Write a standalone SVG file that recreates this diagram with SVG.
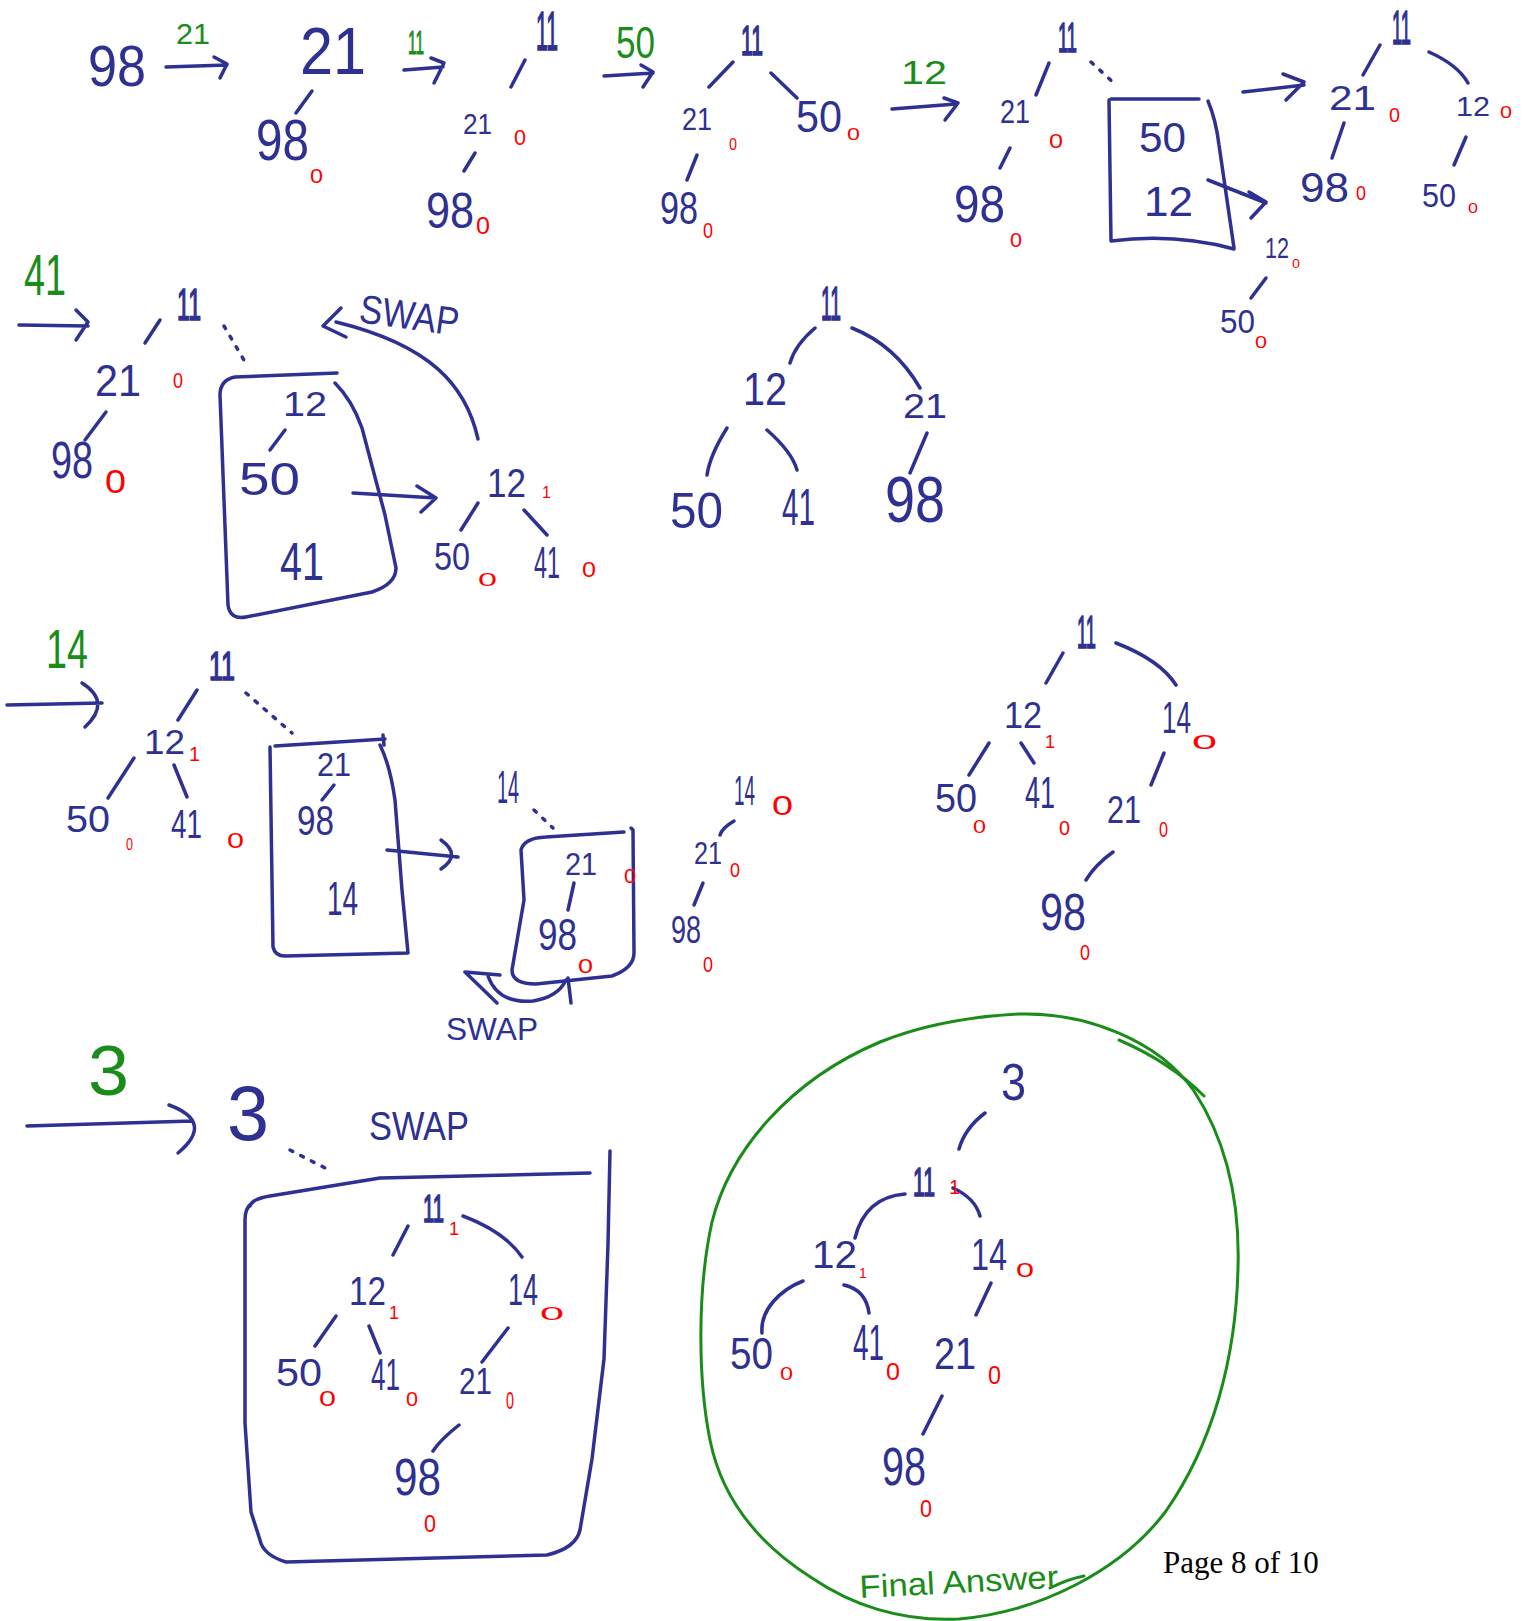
<svg xmlns="http://www.w3.org/2000/svg" width="1528" height="1621" viewBox="0 0 1528 1621">
<style>
text{font-family:"Liberation Sans",Arial,sans-serif}
.b{fill:#2e3192}
.r{fill:#ff0000}
.g{fill:#1a8c1a}
.n11{fill:#2e3192;stroke:#2e3192;stroke-width:1.6}
.e{fill:none;stroke:#2e3192;stroke-width:3.5;stroke-linecap:round;stroke-linejoin:round}
.eg{fill:none;stroke:#1a8c1a;stroke-width:3;stroke-linecap:round;stroke-linejoin:round}
.d{stroke-dasharray:3 9}
.pg{font-family:"Liberation Serif","Times New Roman",serif;fill:#000}
</style>
<rect width="1528" height="1621" fill="#fff"/>

<g id="connectors">
<!-- row 1 -->
<path class="e" d="M166,67 L227,65 M214,57 L227,64 L220,78"/>
<path class="e" d="M312,91 L296,113"/>
<path class="e" d="M404,70 L443,67 M431,58 L444,63 L434,83"/>
<path class="e" d="M525,60 L511,87 M475,153 L464,171"/>
<path class="e" d="M604,76 L653,73 M641,65 L653,72 L643,87"/>
<path class="e" d="M733,62 L709,87 M771,73 L797,98 M697,155 L687,180"/>
<path class="e" d="M892,109 L956,104 M944,98 L958,103 L945,120"/>
<path class="e" d="M1049,63 L1036,95 M1010,148 L1000,168"/>
<path class="e d" d="M1091,62 L1116,85"/>
<path class="e" d="M1208,180 L1266,203 M1249,192 L1266,202 L1251,218"/>
<path class="e" d="M1266,278 L1251,298"/>
<path class="e" d="M1243,92 L1304,85 M1283,74 L1304,82 L1286,100"/>
<path class="e" d="M1380,45 L1363,75 M1429,52 Q1458,65 1468,83 M1344,123 L1332,158 M1466,137 L1454,165"/>
<!-- row 2 -->
<path class="e" d="M19,325 L88,326 M76,310 L88,322 L76,340"/>
<path class="e" d="M160,320 L145,343 M106,412 L85,440"/>
<path class="e d" d="M224,326 L248,367"/>
<path class="e" d="M285,430 L270,450"/>
<path class="e" d="M353,493 L436,498 M417,486 L436,498 L421,512"/>
<path class="e" d="M478,503 L461,530 M524,510 L547,535"/>
<path class="e" d="M478,439 C466,385 430,345 336,322 M341,308 L323,326 L346,337"/>
<path class="e" d="M815,328 Q795,345 790,363 M852,328 Q895,345 920,388 M727,428 Q710,455 707,475 M767,430 Q792,452 797,470 M927,433 L910,473"/>
<!-- row 3 -->
<path class="e" d="M7,705 L102,703 M82,683 Q112,702 85,727"/>
<path class="e" d="M197,690 L178,720 M134,758 L108,798 M174,765 L187,797"/>
<path class="e d" d="M246,693 L292,733"/>
<path class="e" d="M334,785 L322,800"/>
<path class="e" d="M387,850 L458,857 M441,840 Q462,855 441,869"/>
<path class="e d" d="M534,810 L553,828"/>
<path class="e" d="M574,883 L568,910"/>
<path class="e" d="M465,972 L500,975 M465,972 L497,1003 M488,976 Q498,1004 533,1001 Q558,997 566,980 M568,978 L571,1003"/>
<path class="e" d="M734,821 Q722,828 720,835 M703,883 L694,905"/>
<path class="e" d="M1063,653 L1046,683 M1116,643 Q1160,660 1176,685 M989,743 L969,775 M1021,743 L1034,763 M1164,753 L1151,785 M1113,852 Q1095,865 1086,880"/>
<!-- row 4 -->
<path class="e" d="M27,1126 L192,1121 M169,1105 Q215,1122 178,1153"/>
<path class="e d" d="M290,1150 L329,1170"/>
<path class="e" d="M408,1226 L393,1255 M463,1216 Q505,1232 522,1257 M336,1316 L315,1346 M369,1326 L380,1353 M508,1328 L482,1362 M459,1425 Q440,1440 433,1451"/>
<path class="e" d="M985,1113 Q965,1128 959,1149 M905,1194 C880,1196 862,1210 855,1238 M953,1188 Q975,1198 980,1216 M803,1281 C780,1290 760,1310 762,1333 M844,1285 Q866,1290 869,1313 M991,1283 L976,1315 M942,1396 L923,1434"/>
</g>

<g id="boxes">
<path class="e" d="M1111,99 L1199,99 M1208,101 Q1216,120 1219,145 L1234,248 M1109,100 L1111,241 Q1175,233 1234,249"/>
<path class="e" d="M337,373 L235,377 Q220,380 220,395 L228,605 Q230,620 246,617 L372,592 Q396,584 396,568 L385,515 L362,428 Q352,400 335,383"/>
<path class="e" d="M275,746 L385,739 M383,735 L384,745 M270,747 L273,947 Q275,956 285,956 L408,953 L402,890 L395,800 Q390,765 380,745"/>
<path class="e" d="M546,837 L624,832 M631,828 L633,830 L634,953 Q634,968 612,976 L536,984 Q512,984 512,970 L524,900 L521,850 Q524,838 546,837"/>
<path class="e" d="M250,1206 Q252,1199 270,1196 L380,1178 L590,1173 M610,1151 L608,1244 L604,1359 L592,1459 L580,1530 Q576,1548 547,1555 L286,1562 Q263,1555 260,1540 L251,1512 L245,1423 L245,1220 Q245,1208 252,1203"/>
<path class="eg" d="M1019,1014 C1085,1012 1158,1040 1194,1091 C1226,1140 1240,1200 1238,1268 C1236,1360 1212,1445 1166,1511 C1122,1570 1040,1612 959,1619 C900,1622 850,1604 812,1578 C760,1545 722,1500 710,1440 C698,1380 697,1290 712,1222 C730,1150 790,1080 880,1042 C930,1022 980,1016 1019,1014 Z"/>
<path class="eg" d="M1119,1040 Q1170,1062 1204,1096 M1050,1588 Q1068,1579 1084,1576"/>
</g>

<g id="labels">
<text class="g" x="176" y="44" font-size="30" textLength="34" lengthAdjust="spacingAndGlyphs">21</text>
<text class="g" x="408" y="54" font-size="34" textLength="16" lengthAdjust="spacingAndGlyphs" stroke="#1a8c1a" stroke-width="1">11</text>
<text class="g" x="616" y="58" font-size="44" textLength="39" lengthAdjust="spacingAndGlyphs">50</text>
<text class="g" x="901" y="84" font-size="34" textLength="46" lengthAdjust="spacingAndGlyphs">12</text>
<text class="g" x="24" y="295" font-size="58" textLength="42" lengthAdjust="spacingAndGlyphs">41</text>
<text class="g" x="46" y="668" font-size="56" textLength="42" lengthAdjust="spacingAndGlyphs">14</text>
<text class="g" x="88" y="1095" font-size="70" textLength="41" lengthAdjust="spacingAndGlyphs">3</text>
<text class="b" x="358" y="322" font-size="40" textLength="100" lengthAdjust="spacingAndGlyphs" transform="rotate(8 358 322)">SWAP</text>
<text class="b" x="446" y="1040" font-size="32" textLength="92" lengthAdjust="spacingAndGlyphs">SWAP</text>
<text class="b" x="369" y="1140" font-size="40" textLength="100" lengthAdjust="spacingAndGlyphs">SWAP</text>
<text class="g" x="860" y="1598" font-size="32" textLength="199" lengthAdjust="spacingAndGlyphs" transform="rotate(-3 860 1598)">Final Answer</text>
<text class="pg" x="1163" y="1573" font-size="31">Page 8 of 10</text>
</g>

<!-- step 1 -->
<g id="s1-98"><text class="b" x="88" y="86" font-size="58" textLength="58" lengthAdjust="spacingAndGlyphs">98</text></g>
<!-- step 2 -->
<g id="s2-21"><text class="b" x="300" y="74" font-size="66" textLength="66" lengthAdjust="spacingAndGlyphs">21</text></g>
<g id="s2-98"><text class="b" x="256" y="160" font-size="58" textLength="53" lengthAdjust="spacingAndGlyphs">98</text><text class="r" x="310" y="183" font-size="21" textLength="13" lengthAdjust="spacingAndGlyphs">0</text></g>
<!-- step 3 -->
<g id="s3-11"><text class="n11" x="536" y="50" font-size="56" textLength="22" lengthAdjust="spacingAndGlyphs">11</text></g>
<g id="s3-21"><text class="b" x="463" y="134" font-size="30" textLength="29" lengthAdjust="spacingAndGlyphs">21</text><text class="r" x="514" y="145" font-size="22" textLength="12" lengthAdjust="spacingAndGlyphs">0</text></g>
<g id="s3-98"><text class="b" x="426" y="228" font-size="50" textLength="48" lengthAdjust="spacingAndGlyphs">98</text><text class="r" x="476" y="234" font-size="24" textLength="14" lengthAdjust="spacingAndGlyphs">0</text></g>
<!-- step 4 -->
<g id="s4-11"><text class="n11" x="741" y="55" font-size="42" textLength="22" lengthAdjust="spacingAndGlyphs">11</text></g>
<g id="s4-21"><text class="b" x="682" y="130" font-size="32" textLength="30" lengthAdjust="spacingAndGlyphs">21</text><text class="r" x="729" y="150" font-size="16" textLength="8" lengthAdjust="spacingAndGlyphs">0</text></g>
<g id="s4-98"><text class="b" x="660" y="224" font-size="46" textLength="38" lengthAdjust="spacingAndGlyphs">98</text><text class="r" x="703" y="238" font-size="22" textLength="10" lengthAdjust="spacingAndGlyphs">0</text></g>
<g id="s4-50"><text class="b" x="796" y="132" font-size="44" textLength="46" lengthAdjust="spacingAndGlyphs">50</text><text class="r" x="847" y="140" font-size="16" textLength="13" lengthAdjust="spacingAndGlyphs">0</text></g>
<!-- step 5 -->
<g id="s5-11"><text class="n11" x="1058" y="52" font-size="42" textLength="19" lengthAdjust="spacingAndGlyphs">11</text></g>
<g id="s5-21"><text class="b" x="1000" y="123" font-size="34" textLength="30" lengthAdjust="spacingAndGlyphs">21</text><text class="r" x="1049" y="148" font-size="20" textLength="14" lengthAdjust="spacingAndGlyphs">0</text></g>
<g id="s5-98"><text class="b" x="954" y="222" font-size="52" textLength="51" lengthAdjust="spacingAndGlyphs">98</text><text class="r" x="1010" y="247" font-size="20" textLength="12" lengthAdjust="spacingAndGlyphs">0</text></g>
<g id="s5-box"><text class="b" x="1139" y="152" font-size="42" textLength="47" lengthAdjust="spacingAndGlyphs">50</text><text class="b" x="1144" y="216" font-size="42" textLength="49" lengthAdjust="spacingAndGlyphs">12</text></g>
<g id="s5-12"><text class="b" x="1265" y="258" font-size="30" textLength="24" lengthAdjust="spacingAndGlyphs">12</text><text class="r" x="1292" y="268" font-size="12" textLength="8" lengthAdjust="spacingAndGlyphs">0</text></g>
<g id="s5-50"><text class="b" x="1220" y="333" font-size="33" textLength="35" lengthAdjust="spacingAndGlyphs">50</text><text class="r" x="1255" y="348" font-size="16" textLength="12" lengthAdjust="spacingAndGlyphs">0</text></g>
<!-- step 6 -->
<g id="s6-11"><text class="n11" x="1392" y="44" font-size="48" textLength="19" lengthAdjust="spacingAndGlyphs">11</text></g>
<g id="s6-21"><text class="b" x="1329" y="110" font-size="35" textLength="47" lengthAdjust="spacingAndGlyphs">21</text><text class="r" x="1389" y="122" font-size="20" textLength="11" lengthAdjust="spacingAndGlyphs">0</text></g>
<g id="s6-12"><text class="b" x="1456" y="116" font-size="27" textLength="34" lengthAdjust="spacingAndGlyphs">12</text><text class="r" x="1500" y="118" font-size="16" textLength="12" lengthAdjust="spacingAndGlyphs">0</text></g>
<g id="s6-98"><text class="b" x="1300" y="202" font-size="42" textLength="49" lengthAdjust="spacingAndGlyphs">98</text><text class="r" x="1356" y="200" font-size="20" textLength="10" lengthAdjust="spacingAndGlyphs">0</text></g>
<g id="s6-50"><text class="b" x="1422" y="207" font-size="33" textLength="34" lengthAdjust="spacingAndGlyphs">50</text><text class="r" x="1468" y="213" font-size="14" textLength="10" lengthAdjust="spacingAndGlyphs">0</text></g>
<!-- step 7 -->
<g id="s7-11"><text class="n11" x="177" y="320" font-size="45" textLength="24" lengthAdjust="spacingAndGlyphs">11</text></g>
<g id="s7-21"><text class="b" x="95" y="396" font-size="44" textLength="46" lengthAdjust="spacingAndGlyphs">21</text><text class="r" x="173" y="388" font-size="22" textLength="10" lengthAdjust="spacingAndGlyphs">0</text></g>
<g id="s7-98"><text class="b" x="51" y="478" font-size="52" textLength="42" lengthAdjust="spacingAndGlyphs">98</text><text class="r" x="105" y="493" font-size="34" textLength="21" lengthAdjust="spacingAndGlyphs">0</text></g>
<g id="s7-box"><text class="b" x="283" y="416" font-size="35" textLength="44" lengthAdjust="spacingAndGlyphs">12</text><text class="b" x="239" y="495" font-size="46" textLength="61" lengthAdjust="spacingAndGlyphs">50</text><text class="b" x="280" y="580" font-size="54" textLength="44" lengthAdjust="spacingAndGlyphs">41</text></g>
<g id="s7-12"><text class="b" x="487" y="497" font-size="40" textLength="39" lengthAdjust="spacingAndGlyphs">12</text><text class="r" x="542" y="498" font-size="16">1</text></g>
<g id="s7-50"><text class="b" x="434" y="570" font-size="38" textLength="36" lengthAdjust="spacingAndGlyphs">50</text><text class="r" x="478" y="586" font-size="18" textLength="19" lengthAdjust="spacingAndGlyphs">0</text></g>
<g id="s7-41"><text class="b" x="534" y="578" font-size="44" textLength="26" lengthAdjust="spacingAndGlyphs">41</text><text class="r" x="582" y="577" font-size="22" textLength="14" lengthAdjust="spacingAndGlyphs">0</text></g>
<!-- step 8 -->
<g id="s8-11"><text class="n11" x="821" y="320" font-size="48" textLength="20" lengthAdjust="spacingAndGlyphs">11</text></g>
<g id="s8-12"><text class="b" x="743" y="405" font-size="46" textLength="44" lengthAdjust="spacingAndGlyphs">12</text></g>
<g id="s8-21"><text class="b" x="903" y="418" font-size="35" textLength="44" lengthAdjust="spacingAndGlyphs">21</text></g>
<g id="s8-50"><text class="b" x="670" y="528" font-size="50" textLength="53" lengthAdjust="spacingAndGlyphs">50</text></g>
<g id="s8-41"><text class="b" x="782" y="525" font-size="52" textLength="33" lengthAdjust="spacingAndGlyphs">41</text></g>
<g id="s8-98"><text class="b" x="885" y="522" font-size="64" textLength="60" lengthAdjust="spacingAndGlyphs">98</text></g>
<!-- step 9 -->
<g id="s9-11"><text class="n11" x="209" y="680" font-size="40" textLength="26" lengthAdjust="spacingAndGlyphs">11</text></g>
<g id="s9-12"><text class="b" x="144" y="754" font-size="35" textLength="41" lengthAdjust="spacingAndGlyphs">12</text><text class="r" x="189" y="761" font-size="20">1</text></g>
<g id="s9-50"><text class="b" x="66" y="832" font-size="36" textLength="44" lengthAdjust="spacingAndGlyphs">50</text><text class="r" x="126" y="850" font-size="16" textLength="7" lengthAdjust="spacingAndGlyphs">0</text></g>
<g id="s9-41"><text class="b" x="171" y="838" font-size="40" textLength="31" lengthAdjust="spacingAndGlyphs">41</text><text class="r" x="227" y="848" font-size="22" textLength="17" lengthAdjust="spacingAndGlyphs">0</text></g>
<g id="s9-box"><text class="b" x="317" y="776" font-size="34" textLength="34" lengthAdjust="spacingAndGlyphs">21</text><text class="b" x="297" y="835" font-size="42" textLength="37" lengthAdjust="spacingAndGlyphs">98</text><text class="b" x="327" y="915" font-size="48" textLength="31" lengthAdjust="spacingAndGlyphs">14</text></g>
<g id="s9-14"><text class="b" x="497" y="803" font-size="46" textLength="22" lengthAdjust="spacingAndGlyphs">14</text></g>
<g id="s9-21"><text class="b" x="565" y="875" font-size="32" textLength="32" lengthAdjust="spacingAndGlyphs">21</text><text class="r" x="624" y="883" font-size="20" textLength="12" lengthAdjust="spacingAndGlyphs">0</text></g>
<g id="s9-98"><text class="b" x="538" y="950" font-size="44" textLength="39" lengthAdjust="spacingAndGlyphs">98</text><text class="r" x="578" y="973" font-size="20" textLength="15" lengthAdjust="spacingAndGlyphs">0</text></g>
<g id="s10-14"><text class="b" x="734" y="805" font-size="42" textLength="21" lengthAdjust="spacingAndGlyphs">14</text><text class="r" x="772" y="815" font-size="28" textLength="21" lengthAdjust="spacingAndGlyphs">0</text></g>
<g id="s10-21"><text class="b" x="694" y="864" font-size="32" textLength="28" lengthAdjust="spacingAndGlyphs">21</text><text class="r" x="730" y="877" font-size="20" textLength="10" lengthAdjust="spacingAndGlyphs">0</text></g>
<g id="s10-98"><text class="b" x="671" y="943" font-size="38" textLength="30" lengthAdjust="spacingAndGlyphs">98</text><text class="r" x="703" y="972" font-size="22" textLength="10" lengthAdjust="spacingAndGlyphs">0</text></g>
<!-- step 11 -->
<g id="s11-11"><text class="n11" x="1077" y="648" font-size="46" textLength="19" lengthAdjust="spacingAndGlyphs">11</text></g>
<g id="s11-12"><text class="b" x="1004" y="728" font-size="36" textLength="38" lengthAdjust="spacingAndGlyphs">12</text><text class="r" x="1045" y="748" font-size="18">1</text></g>
<g id="s11-14"><text class="b" x="1162" y="733" font-size="44" textLength="29" lengthAdjust="spacingAndGlyphs">14</text><text class="r" x="1192" y="749" font-size="20" textLength="25" lengthAdjust="spacingAndGlyphs">0</text></g>
<g id="s11-50"><text class="b" x="935" y="812" font-size="40" textLength="42" lengthAdjust="spacingAndGlyphs">50</text><text class="r" x="973" y="833" font-size="18" textLength="13" lengthAdjust="spacingAndGlyphs">0</text></g>
<g id="s11-41"><text class="b" x="1025" y="808" font-size="44" textLength="30" lengthAdjust="spacingAndGlyphs">41</text><text class="r" x="1059" y="835" font-size="20" textLength="11" lengthAdjust="spacingAndGlyphs">0</text></g>
<g id="s11-21"><text class="b" x="1107" y="823" font-size="38" textLength="34" lengthAdjust="spacingAndGlyphs">21</text><text class="r" x="1159" y="837" font-size="22" textLength="9" lengthAdjust="spacingAndGlyphs">0</text></g>
<g id="s11-98"><text class="b" x="1040" y="930" font-size="52" textLength="46" lengthAdjust="spacingAndGlyphs">98</text><text class="r" x="1080" y="960" font-size="22" textLength="10" lengthAdjust="spacingAndGlyphs">0</text></g>
<!-- step 12 -->
<g id="s12-3"><text class="b" x="227" y="1140" font-size="78" textLength="42" lengthAdjust="spacingAndGlyphs">3</text></g>
<g id="s12-11"><text class="n11" x="423" y="1222" font-size="38" textLength="21" lengthAdjust="spacingAndGlyphs">11</text><text class="r" x="449" y="1235" font-size="18">1</text></g>
<g id="s12-12"><text class="b" x="349" y="1305" font-size="40" textLength="37" lengthAdjust="spacingAndGlyphs">12</text><text class="r" x="389" y="1319" font-size="18">1</text></g>
<g id="s12-14"><text class="b" x="508" y="1305" font-size="44" textLength="30" lengthAdjust="spacingAndGlyphs">14</text><text class="r" x="540" y="1320" font-size="18" textLength="24" lengthAdjust="spacingAndGlyphs">0</text></g>
<g id="s12-50"><text class="b" x="276" y="1386" font-size="38" textLength="46" lengthAdjust="spacingAndGlyphs">50</text><text class="r" x="319" y="1406" font-size="22" textLength="17" lengthAdjust="spacingAndGlyphs">0</text></g>
<g id="s12-41"><text class="b" x="371" y="1390" font-size="44" textLength="29" lengthAdjust="spacingAndGlyphs">41</text><text class="r" x="406" y="1406" font-size="20" textLength="12" lengthAdjust="spacingAndGlyphs">0</text></g>
<g id="s12-21"><text class="b" x="459" y="1394" font-size="36" textLength="33" lengthAdjust="spacingAndGlyphs">21</text><text class="r" x="506" y="1409" font-size="24" textLength="8" lengthAdjust="spacingAndGlyphs">0</text></g>
<g id="s12-98"><text class="b" x="394" y="1495" font-size="52" textLength="47" lengthAdjust="spacingAndGlyphs">98</text><text class="r" x="424" y="1532" font-size="24" textLength="12" lengthAdjust="spacingAndGlyphs">0</text></g>
<!-- final -->
<g id="f-3"><text class="b" x="1001" y="1100" font-size="52" textLength="25" lengthAdjust="spacingAndGlyphs">3</text></g>
<g id="f-11"><text class="n11" x="913" y="1196" font-size="40" textLength="22" lengthAdjust="spacingAndGlyphs">11</text><text class="r" x="949" y="1194" font-size="20">1</text></g>
<g id="f-12"><text class="b" x="812" y="1268" font-size="38" textLength="45" lengthAdjust="spacingAndGlyphs">12</text><text class="r" x="859" y="1278" font-size="14">1</text></g>
<g id="f-14"><text class="b" x="971" y="1270" font-size="44" textLength="36" lengthAdjust="spacingAndGlyphs">14</text><text class="r" x="1016" y="1277" font-size="20" textLength="18" lengthAdjust="spacingAndGlyphs">0</text></g>
<g id="f-50"><text class="b" x="730" y="1369" font-size="44" textLength="43" lengthAdjust="spacingAndGlyphs">50</text><text class="r" x="780" y="1380" font-size="18" textLength="13" lengthAdjust="spacingAndGlyphs">0</text></g>
<g id="f-41"><text class="b" x="853" y="1360" font-size="50" textLength="31" lengthAdjust="spacingAndGlyphs">41</text><text class="r" x="886" y="1380" font-size="24" textLength="14" lengthAdjust="spacingAndGlyphs">0</text></g>
<g id="f-21"><text class="b" x="934" y="1369" font-size="44" textLength="42" lengthAdjust="spacingAndGlyphs">21</text><text class="r" x="988" y="1384" font-size="26" textLength="13" lengthAdjust="spacingAndGlyphs">0</text></g>
<g id="f-98"><text class="b" x="882" y="1485" font-size="54" textLength="44" lengthAdjust="spacingAndGlyphs">98</text><text class="r" x="920" y="1517" font-size="24" textLength="12" lengthAdjust="spacingAndGlyphs">0</text></g>
</svg>
